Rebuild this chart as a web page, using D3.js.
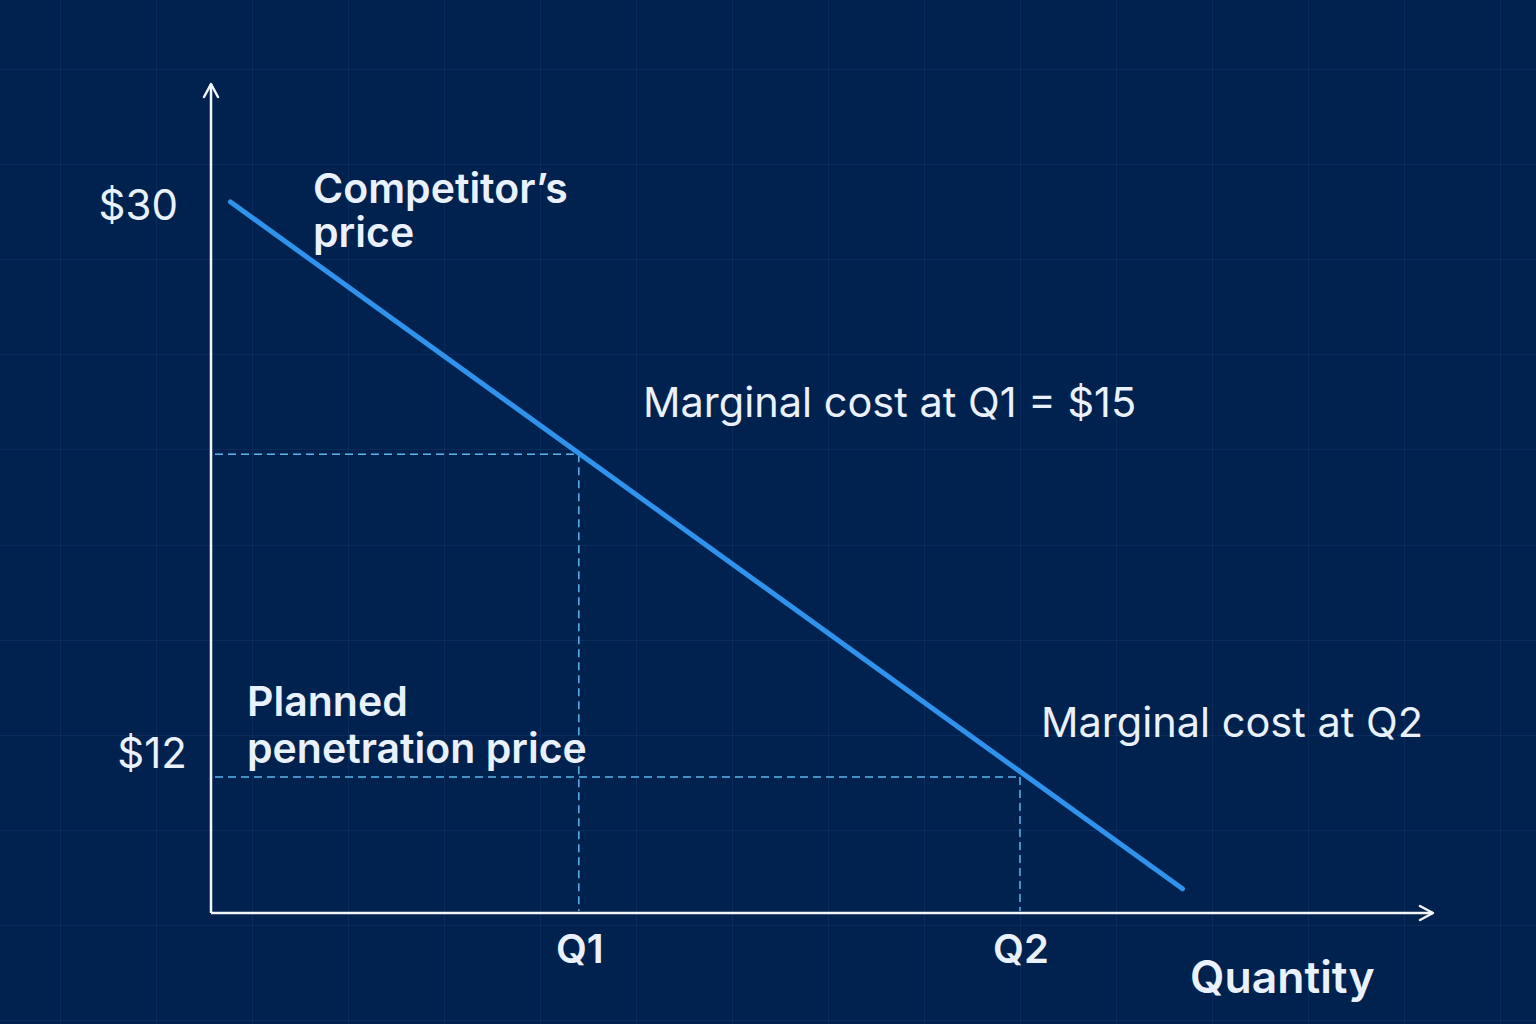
<!DOCTYPE html>
<html>
<head>
<meta charset="utf-8">
<title>Penetration pricing</title>
<style>
  html, body { margin: 0; padding: 0; background: #01214e; }
  svg { display: block; }
  text { font-family: Inter, "Noto Sans", sans-serif; fill: #e9f2fc; }
</style>
</head>
<body>
<div id="chart"></div>
<script src="https://d3js.org/d3.v7.min.js"></script>
<script>
// demand line, quantity in % of axis length, price in $
const demandQty = [1.6, 79.5];
const demandPrice = [30, 8.5];

// reference points on the curve
const refNames = ["Q1", "Q2"];
const refQty = [30.1, 66.2];
const refPrice = [22.1, 12];

const priceTicks = [30, 12];
const priceTickLabels = ["$30", "$12"];

const W = 1536, H = 1024;
const svg = d3.select("#chart").append("svg")
  .attr("width", W).attr("height", H);

svg.append("rect").attr("width", W).attr("height", H).attr("fill", "#01214e");

// faint background grid
const grid = svg.append("g").attr("stroke", "#1b4377").attr("stroke-opacity", 0.35).attr("stroke-width", 1);
grid.selectAll("line.v").data(d3.range(60, W, 96)).enter().append("line")
  .attr("x1", d => d + 0.5).attr("x2", d => d + 0.5).attr("y1", 0).attr("y2", H);
grid.selectAll("line.h").data(d3.range(69, H, 95.1)).enter().append("line")
  .attr("y1", d => Math.round(d) + 0.5).attr("y2", d => Math.round(d) + 0.5).attr("x1", 0).attr("x2", W);

const x = d3.scaleLinear().domain([0, 100]).range([211, 1433]);
const y = d3.scaleLinear().domain([12, 30]).range([777, 202]);

// axes with arrow heads
const axisColor = "#f2f6fb";
const ax = svg.append("g").attr("stroke", axisColor).attr("stroke-width", 2.5).attr("fill", "none");
ax.append("line").attr("x1", x(0)).attr("x2", x(0)).attr("y1", 913).attr("y2", 84);
ax.append("line").attr("x1", x(0)).attr("x2", x(100)).attr("y1", 913).attr("y2", 913);
ax.append("path").attr("d", `M${x(0) - 7},${97} L${x(0)},${84} L${x(0) + 7},${97}`)
  .attr("stroke-linejoin", "round").attr("stroke-linecap", "round");
ax.append("path").attr("d", `M${x(100) - 13},${906} L${x(100)},${913} L${x(100) - 13},${920}`)
  .attr("stroke-linejoin", "round").attr("stroke-linecap", "round");

// dashed guides
const guides = svg.append("g").attr("stroke", "#5cb6ef").attr("stroke-width", 1.5)
  .attr("stroke-dasharray", "8,5").attr("fill", "none");
refQty.forEach((q, i) => {
  guides.append("line").attr("x1", x(0) + 4).attr("x2", x(q)).attr("y1", y(refPrice[i])).attr("y2", y(refPrice[i]));
  guides.append("line").attr("x1", x(q)).attr("x2", x(q)).attr("y1", y(refPrice[i])).attr("y2", 911);
});

// demand line
const line = d3.line().x(d => x(d[0])).y(d => y(d[1]));
svg.append("path")
  .datum(d3.zip(demandQty, demandPrice))
  .attr("d", line)
  .attr("fill", "none")
  .attr("stroke", "#2f93ee")
  .attr("stroke-width", 5)
  .attr("stroke-linecap", "round");

// price tick labels
const tickDy = [18, -9];
const tickDx = [-33, -24];
svg.selectAll("text.ptick").data(priceTicks).enter().append("text")
  .attr("class", "ptick")
  .attr("x", (d, i) => x(0) + tickDx[i])
  .attr("y", (d, i) => y(d) + tickDy[i])
  .attr("text-anchor", "end")
  .attr("font-size", 42)
  .text((d, i) => priceTickLabels[i]);

// quantity labels
svg.selectAll("text.qtick").data(refQty).enter().append("text")
  .attr("class", "qtick")
  .attr("x", d => x(d) + 1)
  .attr("y", 963)
  .attr("text-anchor", "middle")
  .attr("font-size", 40)
  .attr("font-weight", 600)
  .text((d, i) => refNames[i]);

svg.append("text").attr("x", 1190).attr("y", 993)
  .attr("font-size", 44.5).attr("font-weight", 600).text("Quantity");

// annotations
function multi(xp, yp, lines, size, weight, lh) {
  const t = svg.append("text").attr("x", xp).attr("y", yp)
    .attr("font-size", size).attr("font-weight", weight);
  lines.forEach((s, i) => t.append("tspan").attr("x", xp).attr("dy", i ? lh : 0).text(s));
}
multi(313, 203, ["Competitor\u2019s", "price"], 41, 600, 44);
multi(247, 716, ["Planned", "penetration price"], 41, 600, 47);
multi(643, 417, ["Marginal cost at Q1 = $15"], 41.5, 400, 0);
multi(1041, 737, ["Marginal cost at Q2"], 41.5, 400, 0);
</script>
</body>
</html>
